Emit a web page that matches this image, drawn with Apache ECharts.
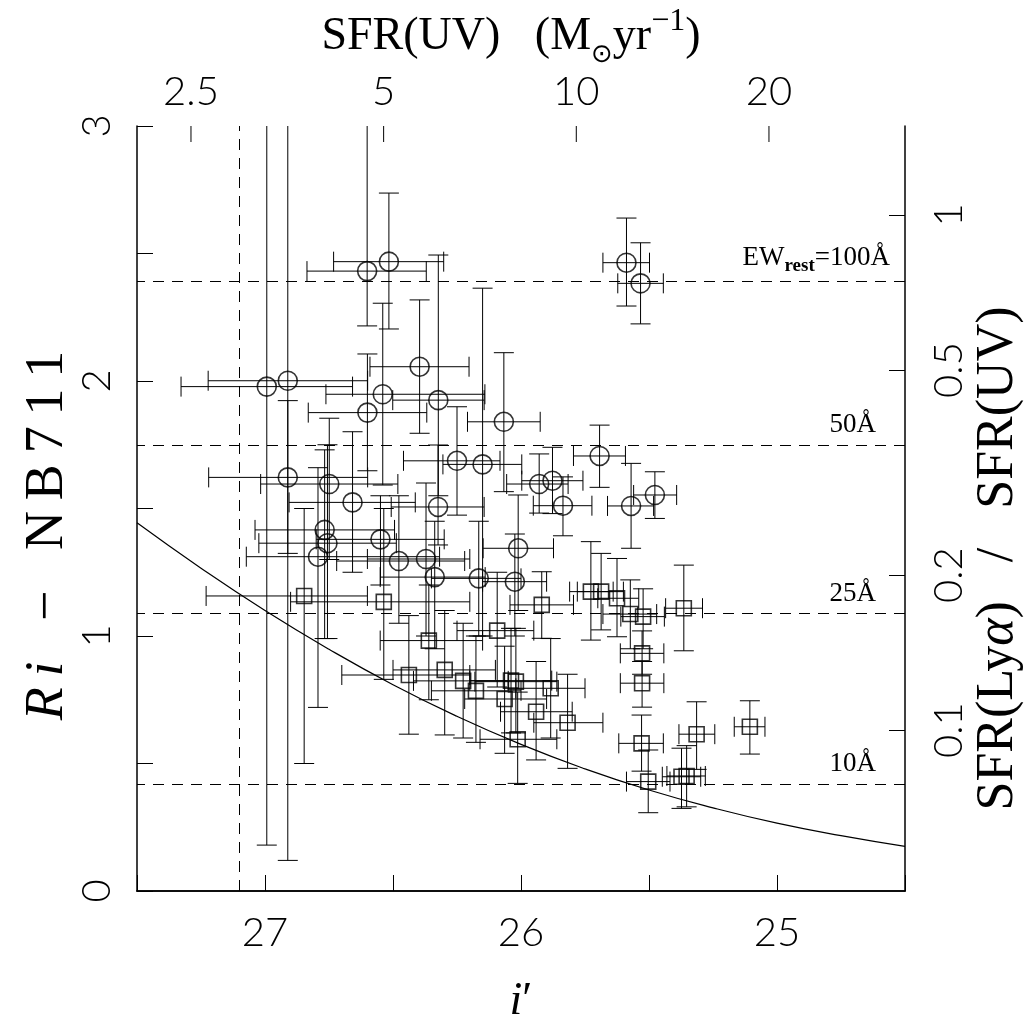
<!DOCTYPE html>
<html><head><meta charset="utf-8">
<script src="https://cdn.jsdelivr.net/npm/echarts@6.0.0/dist/echarts.min.js"></script>
<style>html,body{margin:0;padding:0;background:#fff}#c{width:1034px;height:1028px}</style>
</head><body><div id="c"></div>
<script>
// ---- circles (high-EW emitters) ----
const circI      = [26.601,26.516,26.911,26.993,26.396,26.540,26.323,26.067,26.250,26.150,26.911,26.749,26.658,26.324,25.693,25.929,25.877,25.836,25.570,25.477,25.588,25.533,26.011,26.767,26.756,26.793,26.549,26.477,26.371,26.337,26.165,26.024,26.600];
const circColor  = [2.431,2.468,2.001,1.978,2.056,1.948,1.925,1.840,1.687,1.673,1.622,1.596,1.524,1.506,1.706,1.596,1.609,1.511,1.510,1.553,2.464,2.383,1.344,1.416,1.364,1.311,1.379,1.294,1.302,1.231,1.226,1.213,1.876];
const circIFaint = [26.836,26.732,27.222,27.328,26.590,26.762,26.501,26.209,26.459,26.305,27.220,27.017,26.906,26.507,25.795,26.056,25.997,25.952,25.662,25.560,25.680,25.622,26.148,27.039,27.024,27.073,26.80,26.72,26.60,26.55,26.35,26.15,26.831];
const circIBright= [26.370,26.302,26.599,26.658,26.203,26.141,26.144,25.925,26.082,25.997,26.599,26.481,26.413,26.144,25.592,25.816,25.758,25.723,25.482,25.392,25.498,25.444,25.873,26.494,26.487,26.318,26.30,26.22,26.20,26.14,26.00,25.90,26.368];
const circCLow   = [2.216,2.204,0.12,0.18,1.795,1.592,1.55,1.566,1.474,1.00,1.324,1.30,1.250,1.357,1.583,1.482,1.48,1.393,1.344,1.461,2.294,2.224,1.10,0.99,0.99,0.72,1.20,1.05,1.00,0.95,1.00,1.00,1.648];
const circCHigh  = [3.2,2.737,3.2,3.2,2.318,2.305,2.494,2.111,1.899,2.364,1.923,1.854,1.801,1.749,1.827,1.714,1.740,1.624,1.677,1.644,2.639,2.542,1.553,1.73,1.75,1.66,1.55,1.55,1.60,1.45,1.45,1.40,2.106];

// ---- squares (lower-EW objects) ----
const sqI      = [26.847,26.536,26.360,25.919,25.727,25.687,25.625,25.573,25.523,25.364,25.527,25.527,25.529,25.503,25.373,25.353,25.314,25.106,26.438,26.298,26.226,26.176,26.093,26.039,26.020,26.064,25.884,25.941,25.818,26.013];
const sqColor  = [1.157,1.134,0.982,1.122,1.174,1.174,1.148,1.086,1.076,1.109,0.932,0.815,0.579,0.429,0.448,0.451,0.615,0.644,0.847,0.867,0.824,0.785,1.021,0.825,0.821,0.753,0.795,0.703,0.660,0.595];
const sqIFaint = [27.23,26.90,26.55,26.043,25.81,25.78,25.70,25.68,25.61,25.435,25.612,25.612,25.618,25.588,25.448,25.43,25.383,25.167,26.70,26.50,26.42,26.35,26.25,26.20,26.18,26.22,26.02,26.08,25.95,26.16];
const sqIBright= [26.60,26.20,26.15,25.795,25.64,25.60,25.54,25.47,25.44,25.291,25.442,25.442,25.444,25.418,25.298,25.28,25.243,25.047,26.20,26.10,26.05,26.00,25.95,25.88,25.86,25.90,25.75,25.80,25.68,25.86];
const sqCLow   = [0.50,0.83,0.75,0.991,0.984,1.024,0.997,0.95,0.95,0.942,0.85,0.721,0.47,0.307,0.324,0.33,0.477,0.537,0.615,0.612,0.60,0.583,0.80,0.62,0.62,0.540,0.60,0.514,0.481,0.422];
const sqCHigh  = [1.50,1.50,1.20,1.252,1.370,1.324,1.304,1.22,1.185,1.278,1.02,0.90,0.69,0.553,0.560,0.57,0.742,0.746,1.08,1.10,1.05,1.00,1.25,1.03,1.03,0.96,0.99,0.90,0.85,0.78];

// ---- detection-limit curve ----
const limI     = [24.5,24.75,25.0,25.25,25.5,25.75,26.0,26.25,26.5,26.75,27.0,27.25,27.5];
const limColor = [0.175,0.217,0.266,0.326,0.396,0.479,0.575,0.685,0.809,0.948,1.100,1.266,1.444];

// ---- reference lines ----
const ewLevels = [2.392,1.753,1.094,0.420];
const ewLabels = ['EW{s|rest}=100Å','50Å','25Å','10Å'];
const iLimit = 27.1;

// ---- axis ticks ----
const bottomTickLabels = [25,26,27];
const leftTickLabels = [0,1,2,3];
const sfrTickLabels = ['2.5','5','10','20'];
const sfrTickValues = [2.5,5,10,20];
const ratioTickLabels = ['0.1','0.2','0.5','1'];
const ratioTickColor = [0.631,1.239,2.043,2.651];

const iAtSfr10 = 25.784;
const sfrTickPos = sfrTickValues.map(s => iAtSfr10 - 2.5*Math.log10(s/10));

const chart = echarts.init(document.getElementById('c'));
const numFont = {fontFamily:'Lato', fontWeight:300, fontSize:40, color:'#000'};
const titleFont = 'Liberation Serif';
const T = '\u2009';

function errRender(params, api){
  const x=api.value(0), y=api.value(1);
  const c=api.coord([x,y]);
  const a=api.coord([api.value(2),y]), b=api.coord([api.value(3),y]);
  const d=api.coord([x,api.value(4)]), u=api.coord([x,api.value(5)]);
  const h=10, st={stroke:'#000', lineWidth:1};
  const L=(x1,y1,x2,y2)=>({type:'line',shape:{x1,y1,x2,y2},style:st});
  return {type:'group',children:[
    L(a[0],c[1],b[0],c[1]), L(a[0],c[1]-h,a[0],c[1]+h), L(b[0],c[1]-h,b[0],c[1]+h),
    L(c[0],u[1],c[0],d[1]), L(c[0]-h,u[1],c[0]+h,u[1]), L(c[0]-h,d[1],c[0]+h,d[1])
  ]};
}
// top-axis ticks, placed through the top axis scale
function topTickRender(params, api){
  const p = api.coord([api.value(0), 3]);
  return {type:'line', shape:{x1:p[0], y1:p[1], x2:p[0], y2:p[1]+16}, style:{stroke:'#000', lineWidth:1}};
}
const circErr = circI.map((v,k)=>[v,circColor[k],circIFaint[k],circIBright[k],circCLow[k],circCHigh[k]]);
const sqErr = sqI.map((v,k)=>[v,sqColor[k],sqIFaint[k],sqIBright[k],sqCLow[k],sqCHigh[k]]);

const axisLine = {show:true, lineStyle:{color:'#000', width:1.5}};
const findLabel = (pos, labels) => v => { const k = pos.findIndex(p=>Math.abs(p-v)<1e-6); return k>=0 ? labels[k] : ''; };

const option = {
  backgroundColor:'#fff',
  animation:false,
  grid:{left:137, top:126, right:129, bottom:137, containLabel:false, outerBoundsMode:'none'},
  xAxis:[
    {type:'value', position:'bottom', min:24.5, max:27.5, interval:0.5, inverse:true,
     axisLine, splitLine:{show:false},
     axisTick:{inside:true, length:16, lineStyle:{color:'#000', width:1}},
     axisLabel:{...numFont, margin:22, formatter:v=> bottomTickLabels.includes(v) ? String(v) : ''},
     name:'{it|i}′', nameLocation:'middle', nameGap:88, nameMoveOverlap:false,
     nameTextStyle:{fontFamily:titleFont, fontSize:46, color:'#000', rich:{it:{fontFamily:titleFont, fontStyle:'italic', fontSize:46}}}},
    {type:'value', position:'top', min:24.5, max:27.5, inverse:true,
     axisLine, splitLine:{show:false},
     axisTick:{show:false},
     axisLabel:{...numFont, margin:14, customValues:sfrTickPos, formatter:findLabel(sfrTickPos, sfrTickLabels)},
     name:'SFR(UV)   (M{sub|⊙}yr{sup|−1})', nameLocation:'middle', nameGap:58, nameMoveOverlap:false,
     nameTextStyle:{fontFamily:titleFont, fontSize:46, color:'#000', lineHeight:62, padding:[0,20,0,0],
       rich:{sub:{fontFamily:'DejaVu Sans', fontSize:26, verticalAlign:'bottom', lineHeight:56},
             sup:{fontFamily:titleFont, fontSize:32, verticalAlign:'top', lineHeight:62}}}}
  ],
  yAxis:[
    {type:'value', position:'left', min:0, max:3, interval:0.5,
     axisLine, splitLine:{show:false},
     axisTick:{inside:true, length:16, lineStyle:{color:'#000', width:1}},
     axisLabel:{...numFont, rotate:90, margin:20, formatter:v=> leftTickLabels.includes(v)? String(v):''},
     name:'{it|R'+T+'i}   −   N'+T+'B'+T+'7'+T+'1'+T+'1', nameLocation:'middle', nameGap:62, nameMoveOverlap:false,
     nameTextStyle:{fontFamily:titleFont, fontSize:54, color:'#000', padding:[0,54,0,0],
       rich:{it:{fontFamily:titleFont, fontStyle:'italic', fontSize:54}}}},
    {type:'value', position:'right', min:0, max:3,
     axisLine, splitLine:{show:false},
     axisTick:{inside:true, length:16, customValues:ratioTickColor, lineStyle:{color:'#000', width:1}},
     axisLabel:{...numFont, rotate:90, margin:24, customValues:ratioTickColor, formatter:findLabel(ratioTickColor, ratioTickLabels)},
     name:'SFR(Ly{it|α})   /   SFR(UV)', nameLocation:'middle', nameGap:67, nameRotate:90, nameMoveOverlap:false,
     nameTextStyle:{fontFamily:titleFont, fontSize:52, color:'#000', padding:[0,100,0,0],
       rich:{it:{fontFamily:titleFont, fontStyle:'italic', fontSize:52}}}}
  ],
  series:[
    {type:'line', data:limI.map((v,k)=>[v,limColor[k]]), smooth:0.5, symbol:'none',
     lineStyle:{color:'#000', width:1.2}, clip:true,
     markLine:{silent:true, symbol:'none', animation:false,
       lineStyle:{color:'#000', width:1, type:[11,8]},
       data:[
         ...ewLevels.map((y,k)=>({yAxis:y, label:{show:true, position:'insideStartTop', distance:[k===0?15:29,6],
            formatter:ewLabels[k], fontFamily:titleFont, fontSize:27, color:'#000',
            rich:{s:{fontFamily:titleFont, fontSize:19, fontWeight:'bold', verticalAlign:'bottom', padding:[16,0,0,0]}}}})),
         {xAxis:iLimit, label:{show:false}}
       ]}},
    {type:'custom', xAxisIndex:1, yAxisIndex:0, renderItem:topTickRender, data:sfrTickPos.map(v=>[v,3]), clip:false, silent:true, z:5},
    {type:'custom', renderItem:errRender, data:circErr, clip:true, z:3},
    {type:'custom', renderItem:errRender, data:sqErr, clip:true, z:3},
    {type:'scatter', data:circI.map((v,k)=>[v,circColor[k]]), symbol:'circle', symbolSize:19,
     itemStyle:{color:'rgba(0,0,0,0)', borderColor:'#000', borderWidth:1.6}, z:4},
    {type:'scatter', data:sqI.map((v,k)=>[v,sqColor[k]]), symbol:'rect', symbolSize:15,
     itemStyle:{color:'rgba(0,0,0,0)', borderColor:'#000', borderWidth:1.6}, z:4}
  ]
};
chart.setOption(option);
</script></body></html>
